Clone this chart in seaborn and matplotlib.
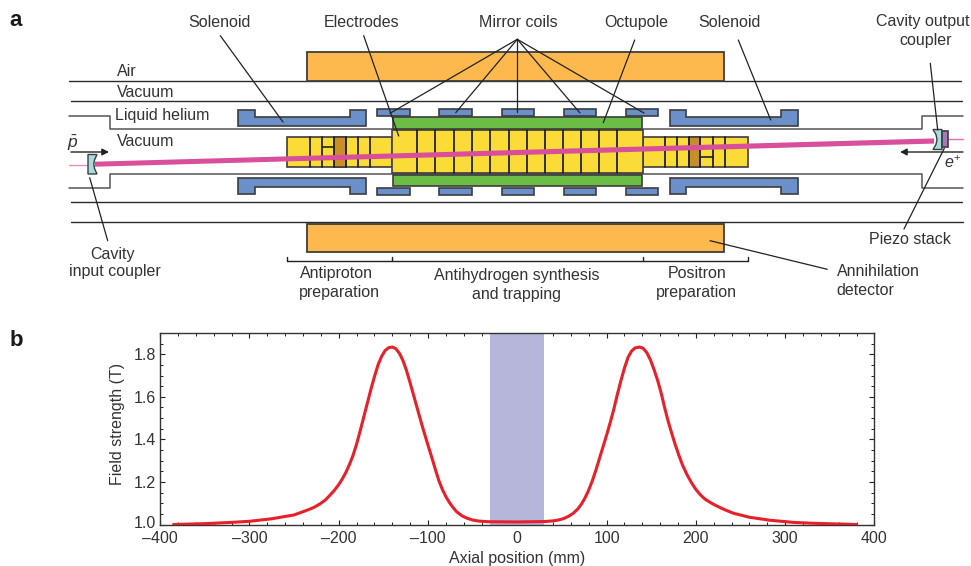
import matplotlib
matplotlib.use("Agg")
import matplotlib.pyplot as plt
from matplotlib.patches import Polygon, Rectangle
from matplotlib.ticker import FixedLocator, MultipleLocator
from matplotlib.transforms import ScaledTranslation
import seaborn as sns

# panel b
axial_mm = [-385, -350, -320, -300, -275, -250, -235, -228, -221, -215, -210, -205, -200, -196, -192, -188,
            -184, -180, -176, -172, -168, -164, -160, -156, -152, -148, -144, -140, -136, -132, -128, -124,
            -120, -116, -112, -108, -104, -100, -96, -92, -88, -84, -80, -76, -72, -68, -62, -56, -50, -43,
            -32, 0, 31, 40, 46, 52, 58, 63, 68, 72, 76, 80, 84, 88, 92, 96, 100, 104, 108, 112, 116, 120,
            124, 128, 132, 137, 141, 145, 149, 153, 157, 161, 165, 169, 173, 177, 181, 185, 190, 195, 200,
            205, 210, 216, 222, 232, 242, 260, 283, 309, 330, 354, 380]
field_t = [1.0, 1.004, 1.01, 1.015, 1.027, 1.045, 1.068, 1.08, 1.097, 1.115, 1.137, 1.16, 1.188, 1.214, 1.245, 1.282,
           1.325, 1.378, 1.44, 1.505, 1.57, 1.635, 1.695, 1.75, 1.79, 1.818, 1.831, 1.834, 1.826, 1.804, 1.77, 1.722,
           1.665, 1.605, 1.545, 1.485, 1.428, 1.372, 1.318, 1.262, 1.208, 1.165, 1.131, 1.103, 1.08, 1.06, 1.041, 1.029, 1.021, 1.016,
           1.013, 1.012, 1.014, 1.017, 1.021, 1.028, 1.04, 1.054, 1.074, 1.097, 1.126, 1.162, 1.205, 1.255, 1.31, 1.365, 1.42, 1.478, 1.54, 1.61, 1.675, 1.735,
           1.785, 1.815, 1.83, 1.834, 1.828, 1.808, 1.775, 1.73, 1.68, 1.62, 1.55, 1.485, 1.428, 1.374, 1.325, 1.28, 1.235, 1.197, 1.165,
           1.14, 1.12, 1.104, 1.09, 1.07, 1.053, 1.034, 1.02, 1.01, 1.006, 1.003, 1.0]
x_ticks = [-400, -300, -200, -100, 0, 100, 200, 300, 400]
x_tick_labels = ["–400", "–300", "–200", "–100", "0", "100", "200", "300", "400"]
y_ticks = [1.0, 1.2, 1.4, 1.6, 1.8]
y_tick_labels = ["1.0", "1.2", "1.4", "1.6", "1.8"]
band_mm = [-31, 30]

# panel a geometry, in picture pixels
long_lines = [[69, 961, 81.3], [71, 962, 101.3], [71, 962, 202], [71, 963, 222.3]]
helium_top_x = [69, 110, 110, 922, 922, 963]
helium_top_y = [115.7, 115.7, 129, 129, 115.7, 115.7]
helium_bottom_y = [187.7, 187.7, 174, 174, 187.7, 187.7]
detector_rows = [[52, 80.5], [224.3, 252]]
detector_x = [307.3, 724.4]
solenoid_x = [[238.3, 254.7, 349.7, 365.7], [669.7, 686, 781.3, 797.7]]
coil_x = [[377.3, 409.7], [439.3, 471.7], [501.7, 533.7], [564, 596], [626.3, 658.3]]
coil_rows = [[109.3, 116.3], [187.7, 194.7]]
octupole_x = [393.3, 642.3]
octupole_rows = [[117, 128.7], [175.3, 186.3]]
trap_x = [391.7, 643]
trap_y = [130, 172.7]
trap_dividers = [417, 435.3, 453.7, 472, 490.3, 508.7, 526.7, 545, 563, 581, 599.3, 617.3]
left_x = [286.7, 391.7]
right_x = [643, 748]
side_y = [137.3, 166.7]
left_dividers = [310.3, 322, 334.3, 345.7, 358, 370]
right_dividers = [664.7, 676.7, 689, 700.3, 712.7, 724.7]
leaders = [[220.3, 35.7, 283, 122], [363.7, 35.7, 398.7, 136],
           [517.3, 39.3, 390, 113.3], [517.3, 39.3, 455.7, 112.7], [517.3, 39.3, 517.3, 112.3],
           [517.3, 39.3, 580, 113], [517.3, 39.3, 644, 113],
           [634.7, 40, 603.3, 122.7], [738.3, 40, 770.7, 120], [930.3, 63.3, 937.7, 130],
           [944.3, 148.3, 904, 229], [710, 240.7, 827.3, 269.3], [89.7, 177.7, 107.7, 240.7]]
labels_center = [["Solenoid", 219, 22.3], ["Electrodes", 362, 22.3], ["Mirror coils", 518.5, 22.3],
                 ["Octupole", 636, 22.3], ["Solenoid", 729.7, 22.3], ["Cavity output", 923, 21.5],
                 ["coupler", 926, 40.8], ["Cavity", 112.5, 254], ["input coupler", 114.7, 271.5],
                 ["Antiproton", 336.7, 273.5], ["preparation", 339, 292.8], ["Antihydrogen synthesis", 517, 275.8],
                 ["and trapping", 517, 294.8], ["Positron", 696.7, 273.5], ["preparation", 696.7, 292.8],
                 ["Piezo stack", 910, 239.5]]
labels_left = [["Air", 116.7, 72], ["Vacuum", 117, 92.5], ["Liquid helium", 115, 115.5], ["Vacuum", 117, 141.8],
               ["Annihilation", 836.7, 271.5], ["detector", 836.7, 290.5]]

TEXT = "#333333"
EDGE = "#3d3d3d"
YELLOW = "#fadb38"
BROWN = "#c98f27"
BLUE = "#6b90c9"

sns.set_theme(style="ticks")
plt.rcParams["font.family"] = ["Liberation Sans", "DejaVu Sans"]
plt.rcParams["mathtext.fontset"] = "custom"
plt.rcParams["mathtext.it"] = "Liberation Sans:italic"
plt.rcParams["mathtext.rm"] = "Liberation Sans"
fs = 11.5

fig = plt.figure(figsize=(9.71, 5.66), dpi=100)

# panel a
top = fig.add_axes([0, 0, 1, 1])
top.set_xlim(0, 971)
top.set_ylim(566, 0)
top.axis("off")


def box(x0, x1, y0, y1, color, z=3, lw=1.2):
    top.add_patch(Rectangle((x0, y0), x1 - x0, y1 - y0, fc=color, ec=EDGE, lw=lw, zorder=z))


for x0, x1, y in long_lines:
    top.plot([x0, x1], [y, y], color="#2a2a2a", lw=1.0, zorder=1)
top.plot(helium_top_x, helium_top_y, color="#555555", lw=1.1, zorder=1)
top.plot(helium_top_x, helium_bottom_y, color="#555555", lw=1.1, zorder=1)

for y0, y1 in detector_rows:
    box(detector_x[0], detector_x[1], y0, y1, "#fdb94d", z=2, lw=1.3)

for a, b, c, d in solenoid_x:
    top.add_patch(Polygon([(a, 110.3), (b, 110.3), (b, 117), (c, 117), (c, 110.3), (d, 110.3), (d, 126.3), (a, 126.3)],
                          fc=BLUE, ec=EDGE, lw=1.2, zorder=3))
    top.add_patch(Polygon([(a, 177.7), (d, 177.7), (d, 193.7), (c, 193.7), (c, 187), (b, 187), (b, 193.7), (a, 193.7)],
                          fc=BLUE, ec=EDGE, lw=1.2, zorder=3))

for x0, x1 in coil_x:
    for y0, y1 in coil_rows:
        box(x0, x1, y0, y1, BLUE)
for y0, y1 in octupole_rows:
    box(octupole_x[0], octupole_x[1], y0, y1, "#6abd45")

box(left_x[0], left_x[1], side_y[0], side_y[1], YELLOW)
box(right_x[0], right_x[1], side_y[0], side_y[1], YELLOW)
box(left_dividers[2], left_dividers[3], side_y[0], side_y[1], BROWN)
box(right_dividers[2], right_dividers[3], side_y[0], side_y[1], BROWN)
box(trap_x[0], trap_x[1], trap_y[0], trap_y[1], YELLOW, z=4)
for x in left_dividers + right_dividers:
    top.plot([x, x], side_y, color="#222222", lw=1.3, zorder=4)
for x in trap_dividers:
    top.plot([x, x], trap_y, color="#222222", lw=1.3, zorder=5)
top.plot([left_dividers[1], left_dividers[2]], [147, 147], color="#222222", lw=1.2, zorder=4)
top.plot([right_dividers[3], right_dividers[4]], [156.7, 156.7], color="#222222", lw=1.2, zorder=4)

# laser beam and mirrors
top.add_patch(Polygon([(95, 161.7), (934, 138.4), (934, 143.6), (95, 166.7)], fc="#d84f9b", ec="none", zorder=6))
top.plot([69, 88], [165, 165], color="#e58cc0", lw=1.0, zorder=2)
top.plot([948, 963], [139, 139], color="#e070b0", lw=1.0, zorder=2)
top.add_patch(Polygon([(88, 154.5), (97, 154.5), (94.5, 160), (93.8, 164), (94.5, 168.5), (97, 174), (88, 174)],
                      fc="#a8dcdc", ec=EDGE, lw=1.0, zorder=7))
top.add_patch(Polygon([(933, 129.5), (942, 129.5), (942, 149.5), (933, 149.5), (936, 144.5), (937, 139.5), (936, 134.5)],
                      fc="#a8dcdc", ec=EDGE, lw=1.0, zorder=7))
box(941.7, 948.3, 131, 147.3, "#a878b8", z=7)

top.annotate("", xy=(109, 152), xytext=(71, 152), zorder=8,
             arrowprops=dict(arrowstyle="-|>", color="#222222", lw=1.0, mutation_scale=10, shrinkA=0, shrinkB=0))
top.annotate("", xy=(900, 152), xytext=(963, 152), zorder=8,
             arrowprops=dict(arrowstyle="-|>", color="#222222", lw=1.0, mutation_scale=10, shrinkA=0, shrinkB=0))

for x0, y0, x1, y1 in leaders:
    top.plot([x0, x1], [y0, y1], color="#222222", lw=0.9, zorder=9)

top.plot([left_x[0], right_x[1]], [261.3, 261.3], color="#222222", lw=1.0, zorder=2)
for x in [left_x[0], trap_x[0], trap_x[1], right_x[1]]:
    top.plot([x, x], [257.3, 261.3], color="#222222", lw=1.0, zorder=2)

for s, x, y in labels_center:
    top.text(x, y, s, ha="center", va="center", fontsize=fs, color=TEXT, zorder=10)
for s, x, y in labels_left:
    top.text(x, y, s, ha="left", va="center", fontsize=fs, color=TEXT, zorder=10)
top.text(73, 143, r"$\bar{p}$", ha="center", va="center", fontsize=fs + 1, color=TEXT, zorder=10)
top.text(953, 163, r"$e^{+}$", ha="center", va="center", fontsize=fs, color=TEXT, zorder=10)
top.text(15.5, 20.5, "a", ha="center", va="center", fontsize=16, fontweight="bold", color="#1a1a1a")
top.text(16, 340, "b", ha="center", va="center", fontsize=16, fontweight="bold", color="#1a1a1a")

# panel b
ax = fig.add_axes([160.2 / 971, (566 - 524.5) / 566, 714.2 / 971, 191.5 / 566])
ax.axvspan(band_mm[0], band_mm[1], color="#b5b6da", lw=0, zorder=1)
sns.lineplot(x=axial_mm, y=field_t, color="#e8202a", lw=2.2, ax=ax, zorder=3)
ax.set_xlim(-400, 400)
ax.set_ylim(1.0, 1.9)
ax.xaxis.set_major_locator(FixedLocator(x_ticks))
ax.set_xticklabels(x_tick_labels)
ax.yaxis.set_major_locator(FixedLocator(y_ticks))
ax.set_yticklabels(y_tick_labels)
ax.xaxis.set_minor_locator(MultipleLocator(20))
ax.yaxis.set_minor_locator(MultipleLocator(0.05))
ax.tick_params(which="major", direction="in", length=3.8, width=0.8, top=True, right=True,
               labelsize=fs, labelcolor=TEXT, color="#222222")
ax.tick_params(which="minor", direction="in", length=2, width=0.7, top=True, right=True, color="#222222")
ax.tick_params(axis="x", which="major", pad=5)
ax.tick_params(axis="y", which="major", pad=3)
for side in ax.spines.values():
    side.set_visible(True)
    side.set_linewidth(1.0)
    side.set_color("#333333")
ax.set_xlabel("Axial position (mm)", fontsize=fs, color=TEXT, labelpad=3.5)
ax.set_ylabel("Field strength (T)", fontsize=fs, color=TEXT, labelpad=6, y=0.525)
# the 1.0 label sits a little above its tick, clear of -400
first = ax.get_yticklabels()[0]
first.set_transform(first.get_transform() + ScaledTranslation(0, 3 / 100, fig.dpi_scale_trans))

fig.savefig("out.png", dpi=100)
